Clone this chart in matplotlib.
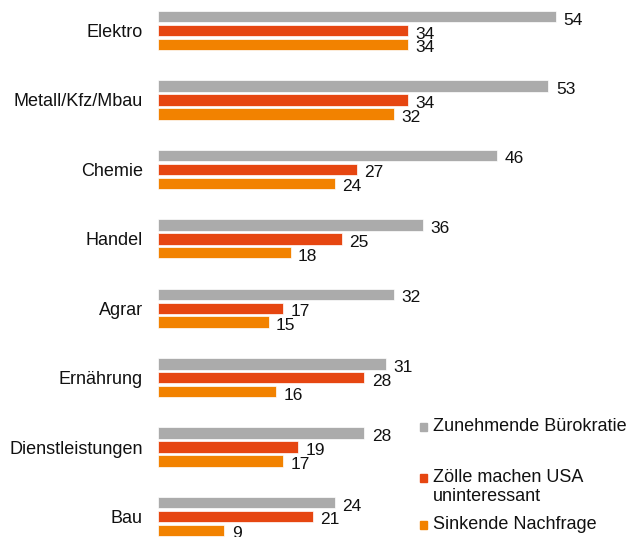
import numpy as np
import matplotlib
matplotlib.use('Agg')
import matplotlib.pyplot as plt
from matplotlib.patches import Rectangle

plt.rcParams['font.family'] = ['Liberation Sans', 'DejaVu Sans']

# Daten
branchen = ['Elektro', 'Metall/Kfz/Mbau', 'Chemie', 'Handel', 'Agrar',
            'Ernährung', 'Dienstleistungen', 'Bau']
buerokratie = [54, 53, 46, 36, 32, 31, 28, 24]
zoelle = [34, 34, 27, 25, 17, 28, 19, 21]
nachfrage = [34, 32, 24, 18, 15, 16, 17, 9]

serien = ['Zunehmende Bürokratie', 'Zölle machen USA\nuninteressant', 'Sinkende Nachfrage']
farben = ['#ABABAB', '#E64611', '#F28200']

fig = plt.figure(figsize=(6.32, 5.37), dpi=100)
ax = fig.add_axes([158 / 632, 0, 442 / 632, 1])

y = np.arange(len(branchen))
versatz = [-0.2, 0.0, 0.2]
hoehe = 0.165

for werte, farbe, dy in zip([buerokratie, zoelle, nachfrage], farben, versatz):
    ax.barh(y + dy, werte, height=hoehe, color=farbe, edgecolor='white', linewidth=0.5)
    for yi, w in zip(y, werte):
        ax.text(w + 1.0, yi + dy + 0.05, str(w), ha='left', va='center',
                fontsize=12.5, color='#111111')

ax.set_xlim(0, 60)
ax.set_ylim(7.295, -0.44)
ax.set_yticks(y)
ax.set_yticklabels(branchen, fontsize=13, color='#111111')
ax.tick_params(axis='y', length=0, pad=11)
ax.set_xticks([])
for s in ax.spines.values():
    s.set_visible(False)

# Legende
H = 537
W = 632
legende_y = [427, 478, 525]
for name, farbe, ly in zip(serien, farben, legende_y):
    fig.patches.append(Rectangle((420 / W, 1 - (ly + 4) / H), 7 / W, 8 / H,
                                 transform=fig.transFigure, color=farbe))
    fig.text(433 / W, 1 - (ly - 9) / H, name, ha='left', va='top', fontsize=13,
             color='#111111', linespacing=1.15)

fig.savefig('out.png', dpi=100)
